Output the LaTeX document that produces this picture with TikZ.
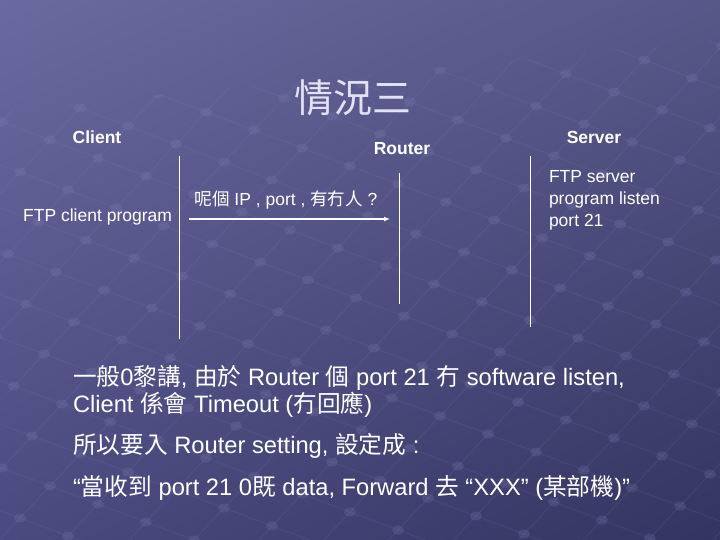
\documentclass[tikz,border=0pt]{standalone}
\usepackage{fontspec}
\setmainfont{Liberation Sans}
\newfontfamily\cjk{Noto Sans CJK TC}
\usetikzlibrary{arrows.meta,shadings}
\newcommand\cj[1]{{\cjk #1}}
\definecolor{bgUL}{HTML}{6A6AA0}
\definecolor{bgUR}{HTML}{575788}
\definecolor{bgLL}{HTML}{4A4A80}
\definecolor{bgLR}{HTML}{343460}
\definecolor{titlecol}{HTML}{E2E2F4}
\definecolor{netline}{HTML}{9090C8}
\definecolor{netdot}{HTML}{8686BE}
\begin{document}
\begin{tikzpicture}[x=1pt,y=-1pt,
  every node/.style={inner sep=0pt,outer sep=0pt,text=white},
  head/.style={font=\fontsize{17.5}{21}\selectfont\bfseries},
  small/.style={font=\fontsize{17.5}{21.5}\selectfont},
  lbl/.style={font=\fontsize{17.5}{20}\selectfont},
  body/.style={font=\fontsize{23.7}{27}\selectfont},
  vline/.style={draw=white,line width=0.9pt},
  msg/.style={draw=white,line width=1.6pt,-{Latex[length=6pt,width=5pt]}}]
\useasboundingbox (0,0) rectangle (720,540);
\shade[upper left=bgUL,upper right=bgUR,lower left=bgLL,lower right=bgLR] (0,0) rectangle (720,540);
% faint network pattern
\begin{scope}
\clip (0,110) -- (720,40) -- (720,540) -- (0,540) -- cycle;
\foreach \j in {-5,...,15}{
  \draw[netline,opacity=0.1,line width=1.2pt] ({48*(-3)+30*\j-100},{18*(-3)-32*\j+300}) -- ({48*17+30*\j-100},{18*17-32*\j+300});
}
\foreach \i in {-3,...,17}{
  \draw[netline,opacity=0.1,line width=1.2pt] ({48*\i+30*(-5)-100},{18*\i-32*(-5)+300}) -- ({48*\i+30*15-100},{18*\i-32*15+300});
}
\foreach \i in {-3,...,17}{
  \foreach \j in {-5,...,15}{
    \fill[netdot,opacity=0.2] ({48*\i+30*\j-100},{18*\i-32*\j+300}) ellipse [x radius=6pt,y radius=4.5pt];
  }
}
\end{scope}
% title
\node[font=\fontsize{39}{44}\selectfont\cjk,text=titlecol] (title) at (353,98) {情況三};
% headings
\node[head,anchor=base] (client) at (97,144) {Client};
\node[head,anchor=base] (router) at (402,155) {Router};
\node[head,anchor=base] (server) at (594,144) {Server};
% vertical lines
\coordinate (c1) at (179,156); \coordinate (c2) at (179,339);
\coordinate (r1) at (399,173); \coordinate (r2) at (399,304);
\coordinate (s1) at (530,156); \coordinate (s2) at (530,327);
\draw[vline] (c1) -- (c2);
\draw[vline] (r1) -- (r2);
\draw[vline] (s1) -- (s2);
% client program
\node[small,anchor=base east] (cprog) at (172,222) {FTP client program};
% arrow
\coordinate (a1) at (189,219); \coordinate (a2) at (390,219);
\draw[msg] (a1) -- (a2);
\node[lbl,anchor=base] (q) at (286,206) {\cj{呢個} IP , port , \cj{有冇人} ?};
% server program
\node[small,anchor=base west] (sp1) at (549,183) {FTP server};
\node[small,anchor=base west] (sp2) at (549,204.5) {program listen};
\node[small,anchor=base west] (sp3) at (549,226) {port 21};
% body text
\node[body,anchor=base west] (t1) at (73,385) {\cj{一般}0\cj{黎講}, \cj{由於} Router \cj{個} port 21 \cj{冇} software listen,};
\node[body,anchor=base west] (t2) at (73,412) {Client \cj{係會} Timeout (\cj{冇回應})};
\node[body,anchor=base west] (t3) at (73,453) {\cj{所以要入} Router setting, \cj{設定成} :};
\node[body,anchor=base west] (t4) at (73,495) {“\cj{當收到} port 21 0\cj{既} data, Forward \cj{去} “XXX” (\cj{某部機})”};
\end{tikzpicture}
\end{document}
